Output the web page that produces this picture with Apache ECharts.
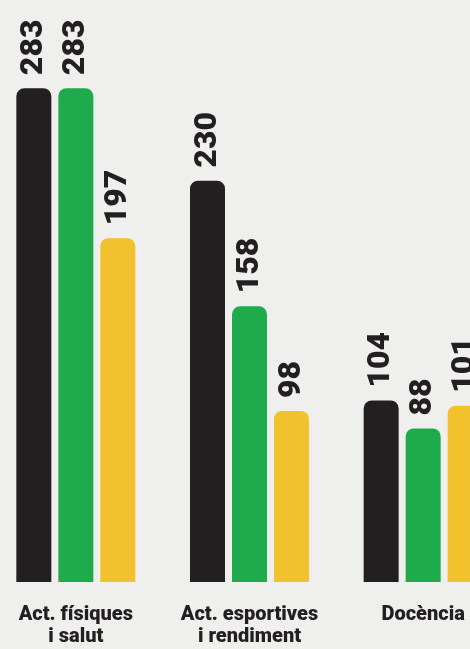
<!DOCTYPE html>
<html><head><meta charset="utf-8">
<script src="https://cdn.jsdelivr.net/npm/echarts@6/dist/echarts.min.js"></script>
<style>html,body{margin:0;padding:0;background:#efefed;}#c{width:470px;height:649px;}</style>
</head><body><div id="c"></div>
<script>
const categories = ['Act. físiques\ni salut', 'Act. esportives\ni rendiment', 'Docència'];
const seriesBlack = [283, 230, 104];
const seriesGreen = [283, 158, 88];
const seriesYellow = [197, 98, 101];

const chart = echarts.init(document.getElementById('c'));
const label = {
  show: true, position: 'top', rotate: 90, align: 'left', verticalAlign: 'middle',
  distance: 13, color: '#231f20', fontFamily: 'Roboto', fontWeight: 900, fontSize: 32
};
function s(data, color) {
  return { type: 'bar', data: data, barWidth: 35, barGap: '20%',
    itemStyle: { color: color, borderRadius: [8, 8, 0, 0] }, label: label };
}
chart.setOption({
  backgroundColor: '#efefed',
  animation: false,
  grid: { left: -11, right: -40, top: 58.5, bottom: 67, containLabel: false, outerBoundsMode: 'none' },
  xAxis: { type: 'category', data: categories,
    axisLine: { show: false }, axisTick: { show: false },
    axisLabel: { margin: 22, color: '#231f20', fontFamily: 'Roboto', fontWeight: 900,
      fontSize: 20, lineHeight: 22, interval: 0 } },
  yAxis: { type: 'value', min: 0, max: 300, show: false, splitLine: { show: false } },
  series: [s(seriesBlack, '#231f20'), s(seriesGreen, '#1fab4b'), s(seriesYellow, '#f2c12e')]
});
</script></body></html>
